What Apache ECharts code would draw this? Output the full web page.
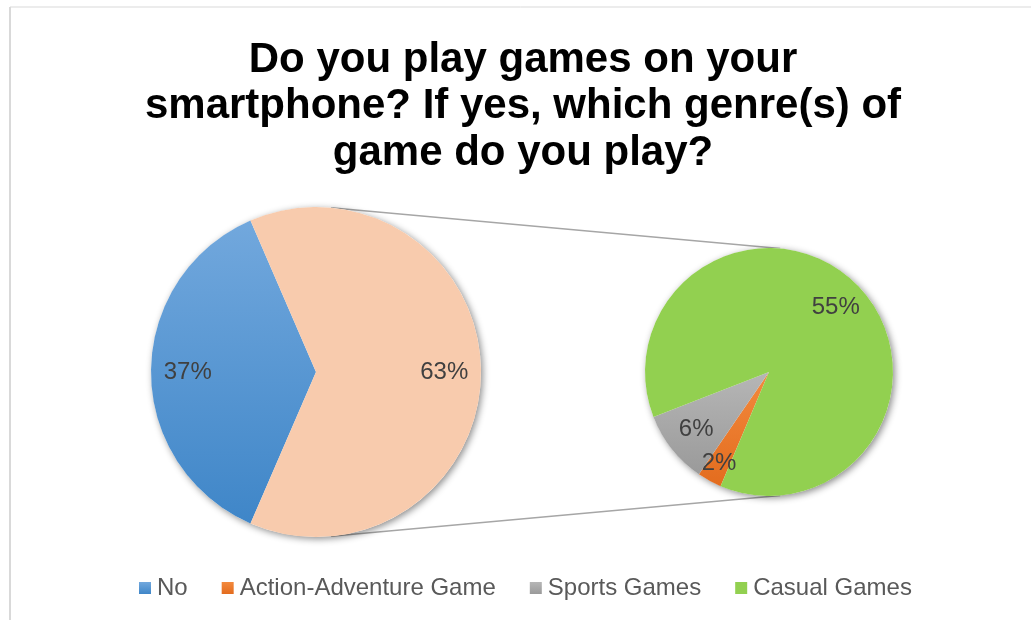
<!DOCTYPE html>
<html>
<head>
<meta charset="utf-8">
<title>Smartphone games</title>
<script src="https://cdn.jsdelivr.net/npm/echarts@6/dist/echarts.min.js"></script>
<style>
  html, body { margin: 0; padding: 0; background: #fff; }
  #chart { width: 1031px; height: 620px; }
</style>
</head>
<body>
<div id="chart"></div>
<script>
// Survey answers, in percent of all respondents
const mainCategories = ['No', 'Yes'];
const mainValues = [37, 63];
// Breakdown of the "Yes" share by genre
const genreCategories = ['Action-Adventure Game', 'Sports Games', 'Casual Games'];
const genreValues = [2, 6, 55];
const legendItems = ['No', 'Action-Adventure Game', 'Sports Games', 'Casual Games'];

const FONT = "'Liberation Sans', Arial, sans-serif";

// Pie geometry (pixels)
const mainCenter = [316, 372], mainR = 165;
const subCenter = [769, 372], subR = 124;

// Where the "No" slice starts so that it sits centred on the left side
const noShare = mainValues[0] / (mainValues[0] + mainValues[1]);
const mainStart = 180 + noShare * 180;
// Small pie: first slice starts just past the bottom so that the minor genres sit lower left
const subStart = 247;

// External tangents joining the two pies
const dist = subCenter[0] - mainCenter[0];
const sinA = (mainR - subR) / dist;
const cosA = Math.sqrt(1 - sinA * sinA);
function tangentPoint(c, r, sign) {
  return [c[0] + r * sinA, c[1] + sign * r * cosA];
}
const topA = tangentPoint(mainCenter, mainR, -1), topB = tangentPoint(subCenter, subR, -1);
const botA = tangentPoint(mainCenter, mainR, 1), botB = tangentPoint(subCenter, subR, 1);

function grad(top, bottom) {
  return new echarts.graphic.LinearGradient(0, 0, 0, 1, [
    { offset: 0, color: top }, { offset: 1, color: bottom }
  ]);
}

// Pushes the inside labels outward along their radius
function radialLabel(center, k, extra) {
  return function (p) {
    const r = p.labelRect;
    const lx = r.x + r.width / 2;
    const ly = r.y + r.height / 2;
    const f = (extra && extra[p.dataIndex] != null ? extra[p.dataIndex] : k) - 1;
    return { dx: (lx - center[0]) * f, dy: (ly - center[1]) * f };
  };
}

const mainColors = [grad('#72a8dd', '#3f86c8'), '#f8cbad'];
const genreColors = [grad('#f38a3e', '#e36c1e'), grad('#b6b6b6', '#9a9a9a'), '#92d050'];

const labelStyle = {
  show: true,
  position: 'inside',
  formatter: '{c}%',
  fontFamily: FONT,
  fontSize: 24,
  color: '#404040'
};

const chart = echarts.init(document.getElementById('chart'), null, { renderer: 'canvas' });

chart.setOption({
  backgroundColor: '#ffffff',
  animation: false,
  title: {
    text: 'Do you play games on your\nsmartphone? If yes, which genre(s) of\ngame do you play?',
    left: 518,
    top: 32,
    textAlign: 'center',
    textStyle: {
      fontFamily: FONT,
      fontSize: 42,
      fontWeight: 'bold',
      lineHeight: 46.5,
      color: '#000000'
    }
  },
  legend: {
    data: legendItems,
    bottom: 15,
    left: 134,
    itemWidth: 12,
    itemHeight: 12,
    itemGap: 34,
    icon: 'rect',
    selectedMode: false,
    textStyle: { fontFamily: FONT, fontSize: 24, color: '#595959', padding: [0, 0, 0, 1] }
  },
  graphic: [
    // chart frame edges
    { type: 'line', shape: { x1: 10, y1: 7, x2: 1031, y2: 7 }, style: { stroke: '#d9d9d9', lineWidth: 1 }, silent: true },
    { type: 'line', shape: { x1: 10, y1: 7, x2: 10, y2: 620 }, style: { stroke: '#d9d9d9', lineWidth: 2 }, silent: true },
    // connectors between the pies
    { type: 'line', z: -10, shape: { x1: topA[0], y1: topA[1], x2: topB[0], y2: topB[1] }, style: { stroke: '#a6a6a6', lineWidth: 1.5 }, silent: true },
    { type: 'line', z: -10, shape: { x1: botA[0], y1: botA[1], x2: botB[0], y2: botB[1] }, style: { stroke: '#a6a6a6', lineWidth: 1.5 }, silent: true },
    // soft drop shadows beneath each pie
    { type: 'circle', z: -5, shape: { cx: mainCenter[0], cy: mainCenter[1], r: mainR }, style: { fill: '#ffffff', shadowBlur: 7, shadowOffsetX: 2, shadowOffsetY: 2, shadowColor: 'rgba(0,0,0,0.45)' }, silent: true },
    { type: 'circle', z: -5, shape: { cx: subCenter[0], cy: subCenter[1], r: subR }, style: { fill: '#ffffff', shadowBlur: 7, shadowOffsetX: 2, shadowOffsetY: 2, shadowColor: 'rgba(0,0,0,0.45)' }, silent: true }
  ],
  series: [
    {
      type: 'pie',
      center: mainCenter,
      radius: [0, mainR],
      startAngle: mainStart,
      clockwise: true,
      avoidLabelOverlap: false,
      label: labelStyle,
      labelLine: { show: false },
      labelLayout: radialLabel(mainCenter, 1.5),
      emphasis: { disabled: true },
      itemStyle: { borderWidth: 0 },
      data: mainCategories.map((n, i) => ({ name: n, value: mainValues[i], itemStyle: { color: mainColors[i] } }))
    },
    {
      type: 'pie',
      center: subCenter,
      radius: [0, subR],
      startAngle: subStart,
      clockwise: true,
      avoidLabelOverlap: false,
      label: labelStyle,
      labelLine: { show: false },
      labelLayout: radialLabel(subCenter, 1.43, { 0: 1.6 }),
      emphasis: { disabled: true },
      itemStyle: { borderWidth: 0 },
      data: genreCategories.map((n, i) => ({ name: n, value: genreValues[i], itemStyle: { color: genreColors[i] } }))
    }
  ]
});
</script>
</body>
</html>
